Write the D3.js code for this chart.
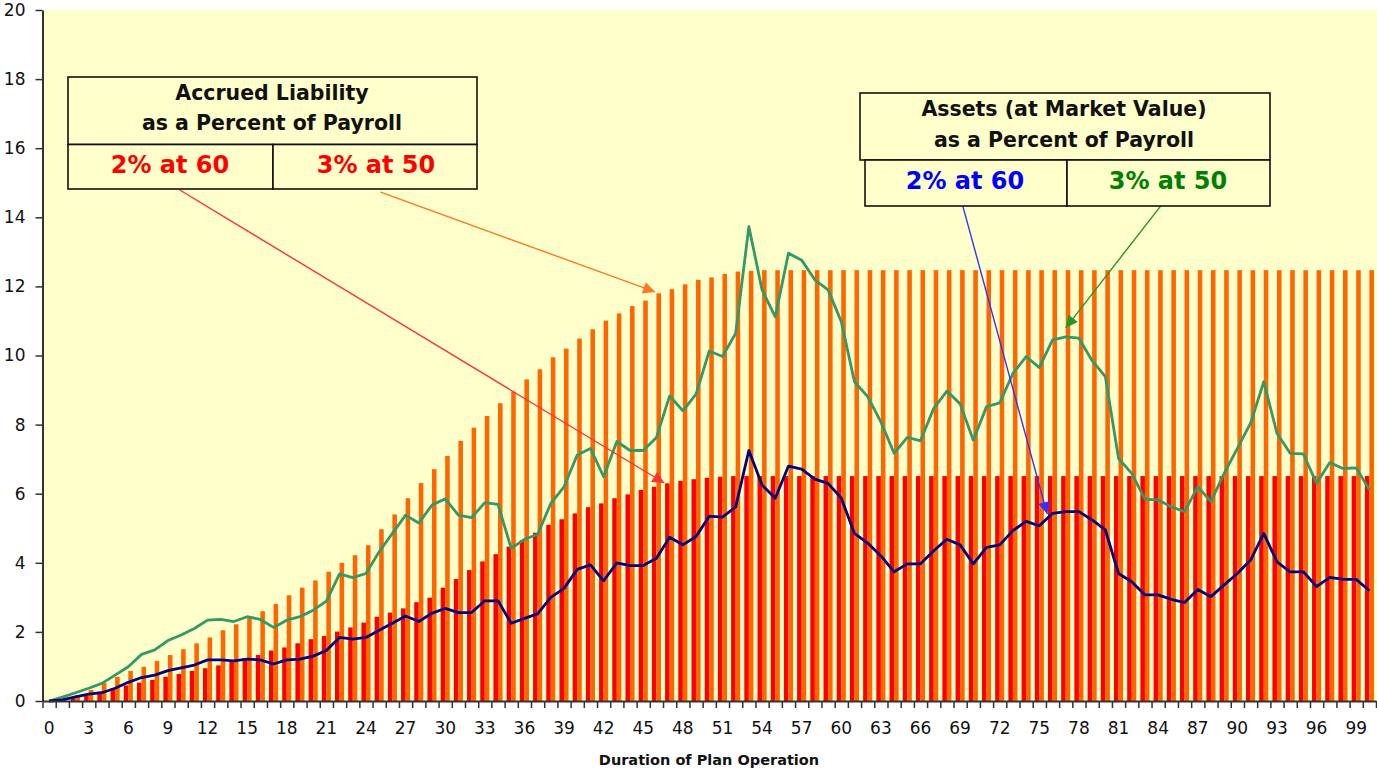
<!DOCTYPE html>
<html><head><meta charset="utf-8">
<script src="https://cdn.jsdelivr.net/npm/d3@7"></script>
<style>html,body{margin:0;padding:0;background:#fff;}svg{display:block;}</style>
</head><body><svg id="c" width="1377" height="770"></svg>
<script>
const categories = d3.range(0, 101);
const xTickLabels = [0,3,6,9,12,15,18,21,24,27,30,33,36,39,42,45,48,51,54,57,60,63,66,69,72,75,78,81,84,87,90,93,96,99];
const yTickLabels = [0,2,4,6,8,10,12,14,16,18,20];

// Accrued liability as % of payroll
const liab2at60 = [0,0.02,0.08,0.16,0.27,0.36,0.45,0.53,0.61,0.70,0.78,0.87,0.95,1.03,1.13,1.24,1.33,1.46,1.55,1.67,1.79,1.88,2.01,2.13,2.27,2.44,2.56,2.68,2.86,2.99,3.28,3.53,3.79,4.04,4.25,4.47,4.66,4.87,5.10,5.26,5.43,5.61,5.72,5.87,5.98,6.11,6.20,6.30,6.37,6.42,6.46,6.49,
6.51,6.51,6.51,6.51,6.51,6.51,6.51,6.51,6.51,6.51,6.51,6.51,6.51,6.51,6.51,6.51,6.51,6.51,6.51,6.51,6.51,6.51,6.51,6.51,6.51,6.51,6.51,6.51,6.51,6.51,6.51,6.51,6.51,6.51,6.51,6.51,6.51,6.51,6.51,6.51,6.51,6.51,6.51,6.51,6.51,6.51,6.51,6.51,6.51];
const liab3at50 = [0,0.05,0.17,0.32,0.52,0.70,0.87,0.99,1.16,1.33,1.50,1.67,1.84,2.05,2.22,2.41,2.60,2.81,3.06,3.28,3.49,3.74,4.00,4.22,4.51,4.97,5.40,5.87,6.31,6.71,7.09,7.53,7.91,8.25,8.62,8.95,9.31,9.60,9.95,10.20,10.49,10.76,11.01,11.22,11.43,11.59,11.80,11.92,12.06,12.19,12.26,12.36,12.43,12.45,
12.47,12.47,12.47,12.47,12.47,12.47,12.47,12.47,12.47,12.47,12.47,12.47,12.47,12.47,12.47,12.47,12.47,12.47,12.47,12.47,12.47,12.47,12.47,12.47,12.47,12.47,12.47,12.47,12.47,12.47,12.47,12.47,12.47,12.47,12.47,12.47,12.47,12.47,12.47,12.47,12.47,12.47,12.47,12.47,12.47,12.47,12.47];
// Assets (market value) as % of payroll
const assets3at50 = [0,0.11,0.24,0.37,0.51,0.75,0.99,1.35,1.48,1.75,1.91,2.10,2.34,2.36,2.30,2.44,2.36,2.13,2.34,2.44,2.63,2.89,3.68,3.57,3.69,4.32,4.85,5.38,5.15,5.67,5.85,5.38,5.31,5.74,5.69,4.42,4.68,4.82,5.72,6.20,7.12,7.31,6.49,7.51,7.25,7.25,7.63,8.83,8.40,8.88,10.13,9.97,10.64,13.73,11.90,11.12,12.96,12.76,12.19,11.90,10.98,9.24,8.81,8.08,7.17,7.63,7.53,8.47,8.97,8.60,7.55,8.52,8.63,9.48,9.97,9.65,10.45,10.54,10.50,9.85,9.39,7.02,6.59,5.84,5.82,5.62,5.48,6.20,5.77,6.59,7.31,8.04,9.24,7.75,7.17,7.15,6.30,6.90,6.73,6.75,6.11];
const assets2at60 = [0,0.03,0.12,0.20,0.24,0.37,0.54,0.68,0.75,0.88,0.96,1.04,1.19,1.19,1.16,1.21,1.19,1.07,1.19,1.21,1.30,1.46,1.84,1.79,1.84,2.05,2.25,2.46,2.30,2.54,2.68,2.56,2.56,2.90,2.90,2.25,2.39,2.52,3.00,3.26,3.81,3.94,3.48,4.00,3.92,3.92,4.13,4.74,4.52,4.76,5.35,5.32,5.62,7.25,6.25,5.87,6.80,6.71,6.42,6.30,5.87,4.85,4.57,4.20,3.74,3.97,3.97,4.35,4.68,4.52,3.97,4.45,4.52,4.93,5.20,5.07,5.43,5.48,5.48,5.24,4.95,3.69,3.45,3.07,3.07,2.94,2.85,3.23,3.02,3.36,3.69,4.08,4.85,4.03,3.74,3.74,3.31,3.58,3.52,3.52,3.19];

// annotation arrows: [fromCategory, fromValue, toCategory, toValue]
const arrowRed    = [9.9, 14.79, 46.6, 6.31];
const arrowOrange = [25.1, 14.73, 45.9, 11.84];
const arrowBlue   = [69.2, 14.33, 75.6, 5.41];
const arrowGreen  = [84.2, 14.33, 77.0, 10.80];

const svg = d3.select("#c");
const L = 42.5, R = 1376, T = 10, B = 701;
const x = d3.scaleBand().domain(categories).range([L, R]).paddingInner(0).paddingOuter(0);
const xc = d3.scaleLinear().domain([-0.5, 100.5]).range([L, R]);
const x1 = d3.scaleBand().domain(["r","o"]).range([0, x.bandwidth()]).paddingInner(0).paddingOuter(0.45);
const y = d3.scaleLinear().domain([0, 20]).range([B, T]);

svg.append("rect").attr("x", L).attr("y", T).attr("width", 1377 - L).attr("height", B - T).attr("fill", "#FFFFCC");

const gb = svg.append("g");
gb.selectAll("rect.r").data(categories).join("rect").attr("class","r")
  .attr("x", d => x(d) + x1("r")).attr("width", x1.bandwidth())
  .attr("y", d => y(liab2at60[d])).attr("height", d => B - y(liab2at60[d]))
  .attr("fill", "#FF0000");
gb.selectAll("rect.o").data(categories).join("rect").attr("class","o")
  .attr("x", d => x(d) + x1("o")).attr("width", x1.bandwidth())
  .attr("y", d => y(liab3at50[d])).attr("height", d => B - y(liab3at50[d]))
  .attr("fill", "#FF6600");

const line = d3.line().x((d, i) => xc(i)).y(d => y(d));
svg.append("path").datum(assets3at50).attr("d", line).attr("fill","none").attr("stroke","#339966").attr("stroke-width",2.8).attr("stroke-linejoin","round");
svg.append("path").datum(assets2at60).attr("d", line).attr("fill","none").attr("stroke","#000080").attr("stroke-width",2.8).attr("stroke-linejoin","round");

// axes
const yAxis = d3.axisLeft(y).tickValues(yTickLabels).tickSize(7).tickPadding(10).tickSizeOuter(0);
const gy = svg.append("g").attr("transform", `translate(${L},0)`).call(yAxis);
gy.selectAll("text").attr("font-family","DejaVu Sans, Verdana, sans-serif").attr("font-size",17).attr("fill","#111");
gy.select(".domain").attr("stroke","#333").attr("stroke-width",2);
gy.selectAll(".tick line").attr("stroke","#333").attr("stroke-width",1.5);

const xTicks = d3.axisBottom(d3.scaleLinear().domain([0,101]).range([L,R])).tickValues(d3.range(0,102)).tickSize(7).tickFormat("").tickSizeOuter(0);
const gx = svg.append("g").attr("transform", `translate(0,${B})`).call(xTicks);
gx.select(".domain").attr("stroke","#333").attr("stroke-width",2);
gx.selectAll(".tick line").attr("stroke","#333").attr("stroke-width",1.5);
const xLab = d3.axisBottom(x).tickValues(xTickLabels).tickSize(0).tickPadding(21);
const gxl = svg.append("g").attr("transform", `translate(0,${B})`).call(xLab);
gxl.select(".domain").remove();
gxl.selectAll("text").attr("font-family","DejaVu Sans, Verdana, sans-serif").attr("font-size",17).attr("fill","#111");

svg.append("text").attr("x", 709).attr("y", 765).attr("text-anchor","middle")
  .attr("font-family","DejaVu Sans, Verdana, sans-serif").attr("font-weight","bold").attr("font-size",14.5).attr("fill","#111")
  .text("Duration of Plan Operation");

// arrows
const defs = svg.append("defs");
function arrow(a, color, id) {
  defs.append("marker").attr("id", id).attr("viewBox","0 0 10 10").attr("refX",10).attr("refY",5)
    .attr("markerWidth",15).attr("markerHeight",12).attr("markerUnits","userSpaceOnUse").attr("orient","auto")
    .append("path").attr("d","M0,0 L10,5 L0,10 Z").attr("fill", color);
  svg.append("line").attr("x1", xc(a[0])).attr("y1", y(a[1])).attr("x2", xc(a[2])).attr("y2", y(a[3]))
    .attr("stroke", color).attr("stroke-width", 1.4).attr("marker-end", `url(#${id})`);
}
arrow(arrowRed, "#FF3333", "mr");
arrow(arrowOrange, "#FF7722", "mo");
arrow(arrowBlue, "#3333FF", "mb");
arrow(arrowGreen, "#229922", "mg");

// annotation boxes
function rect(x0, y0, x1_, y1) {
  svg.append("rect").attr("x", x0).attr("y", y0).attr("width", x1_ - x0).attr("height", y1 - y0)
    .attr("fill", "#FFFFCC").attr("stroke", "#111").attr("stroke-width", 1.6);
}
function txt(xp, yp, s, size, color) {
  svg.append("text").attr("x", xp).attr("y", yp).attr("text-anchor","middle")
    .attr("font-family","DejaVu Sans, Verdana, sans-serif").attr("font-weight","bold")
    .attr("font-size", size).attr("fill", color).text(s);
}
rect(68, 77, 477, 144.5);
rect(68, 144.5, 273, 189);
rect(273, 144.5, 477, 189);
txt(272, 100, "Accrued Liability", 20.5, "#111");
txt(272, 130, "as a Percent of Payroll", 20.5, "#111");
txt(170, 173, "2% at 60", 24, "#FF0000");
txt(376, 173, "3% at 50", 24, "#FF0000");

rect(860, 93, 1270, 160);
rect(865, 160, 1067, 206);
rect(1067, 160, 1270, 206);
txt(1064, 116, "Assets (at Market Value)", 20.5, "#111");
txt(1064, 147, "as a Percent of Payroll", 20.5, "#111");
txt(965, 189, "2% at 60", 24, "#0000FF");
txt(1168, 189, "3% at 50", 24, "#008000");
</script></body></html>
